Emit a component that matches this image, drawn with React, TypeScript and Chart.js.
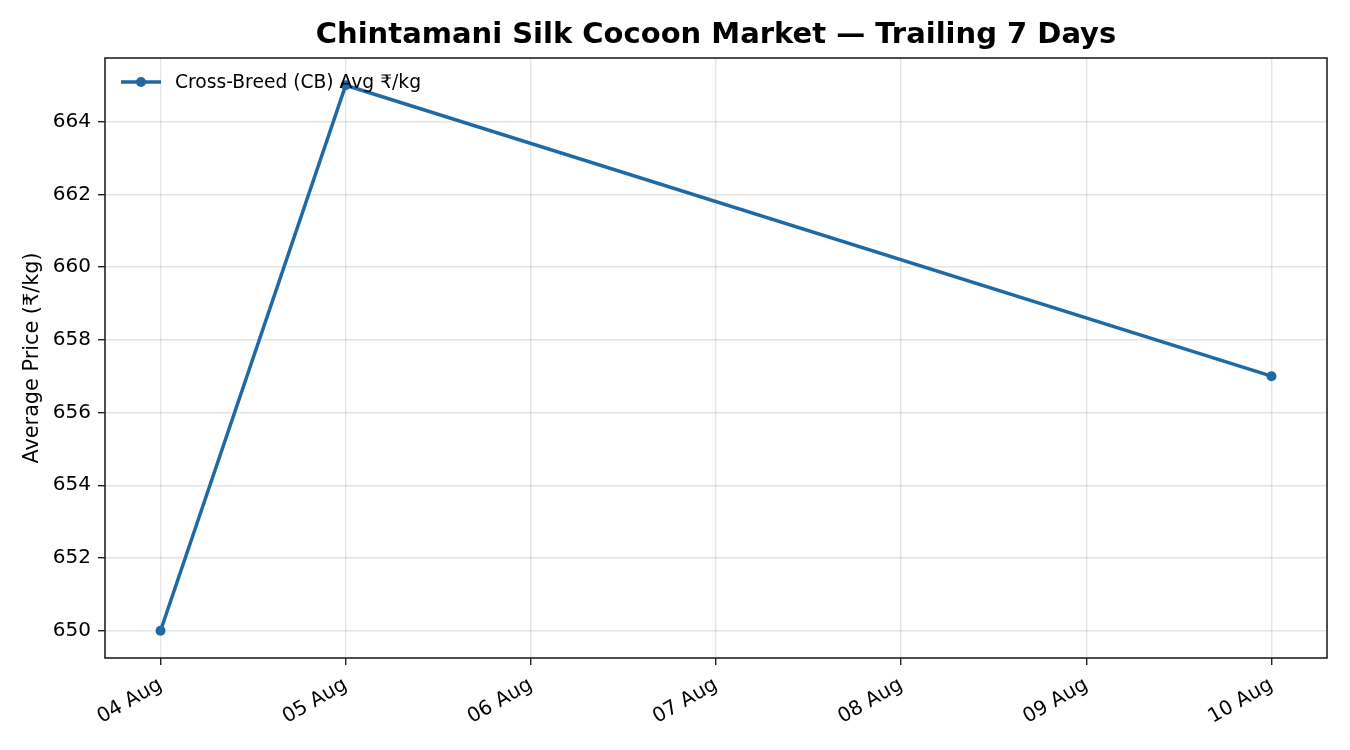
import { useEffect, useRef } from "react"
import { Chart, registerables } from "chart.js"

Chart.register(...registerables)

// Data
const dayLabels = ["04 Aug", "05 Aug", "06 Aug", "07 Aug", "08 Aug", "09 Aug", "10 Aug"]
const observedDays = ["04 Aug", "05 Aug", "10 Aug"]
const cbPrices = [650, 665, 657]
const priceTicks = [650, 652, 654, 656, 658, 660, 662, 664]

const TITLE = "Chintamani Silk Cocoon Market \u2014 Trailing 7 Days"
const SERIES_LABEL = "Cross-Breed (CB) Avg \u20B9/kg"
const Y_TITLE = "Average Price (\u20B9/kg)"
const LINE_COLOR = "#1f6aa5"
const FONT = "'DejaVu Sans', sans-serif"

// Title, y-axis title, in-plot legend and the full frame
const decorations = {
  id: "decorations",
  afterDraw(chart: Chart) {
    const { ctx, chartArea } = chart
    ctx.save()

    ctx.fillStyle = "#000"
    ctx.font = `bold 29px ${FONT}`
    ctx.textAlign = "center"
    ctx.textBaseline = "middle"
    ctx.fillText(TITLE, (chartArea.left + chartArea.right) / 2, 35)

    ctx.save()
    ctx.translate(33, (chartArea.top + chartArea.bottom) / 2)
    ctx.rotate(-Math.PI / 2)
    ctx.font = `20.8px ${FONT}`
    ctx.fillText(Y_TITLE, 0, 0)
    ctx.restore()

    // legend
    const ly = chartArea.top + 24
    const lx = chartArea.left + 16
    ctx.strokeStyle = LINE_COLOR
    ctx.lineWidth = 3.5
    ctx.beginPath()
    ctx.moveTo(lx, ly)
    ctx.lineTo(lx + 40, ly)
    ctx.stroke()
    ctx.fillStyle = LINE_COLOR
    ctx.beginPath()
    ctx.arc(lx + 20, ly, 5, 0, Math.PI * 2)
    ctx.fill()
    ctx.fillStyle = "#000"
    ctx.font = `18.7px ${FONT}`
    ctx.textAlign = "left"
    ctx.fillText(SERIES_LABEL, lx + 54, ly + 1)

    ctx.strokeStyle = "#222"
    ctx.lineWidth = 1.6
    ctx.strokeRect(chartArea.left, chartArea.top, chartArea.right - chartArea.left, chartArea.bottom - chartArea.top)
    ctx.restore()
  },
}

export default function App() {
  const canvasRef = useRef<HTMLCanvasElement>(null)
  const chartRef = useRef<Chart | null>(null)

  useEffect(() => {
    if (!canvasRef.current) return
    if (chartRef.current) chartRef.current.destroy()
    const ctx = canvasRef.current.getContext("2d")
    if (!ctx) return

    chartRef.current = new Chart(ctx, {
      type: "line",
      data: {
        datasets: [
          {
            label: SERIES_LABEL,
            data: observedDays.map((d, i) => ({ x: dayLabels.indexOf(d), y: cbPrices[i] })),
            borderColor: LINE_COLOR,
            backgroundColor: LINE_COLOR,
            borderWidth: 3.5,
            pointRadius: 5,
            pointHoverRadius: 5,
            pointBorderWidth: 0,
            tension: 0,
          },
        ],
      },
      options: {
        responsive: true,
        maintainAspectRatio: false,
        animation: false,
        layout: { padding: { top: 58, right: 23, left: 0, bottom: 0 } },
        plugins: {
          legend: { display: false },
          title: { display: false },
          tooltip: { enabled: false },
        },
        scales: {
          x: {
            type: "linear",
            min: -0.3,
            max: 6.3,
            afterBuildTicks: (scale: any) => {
              scale.ticks = dayLabels.map((_, i) => ({ value: i }))
            },
            afterFit: (scale: any) => {
              scale.height = 92
            },
            ticks: {
              autoSkip: false,
              minRotation: 30,
              maxRotation: 30,
              padding: 8,
              color: "#000",
              font: { family: FONT, size: 20 },
              callback: (v: any) => dayLabels[v as number] ?? "",
            },
            grid: {
              color: "rgba(0,0,0,0.1)",
              tickColor: "#222",
              tickLength: 7,
              lineWidth: 1.4,
            },
            border: { display: false },
          },
          y: {
            min: 649.25,
            max: 665.75,
            afterBuildTicks: (scale: any) => {
              scale.ticks = priceTicks.map((v) => ({ value: v }))
            },
            afterFit: (scale: any) => {
              scale.width = 105
            },
            ticks: {
              padding: 7,
              color: "#000",
              font: { family: FONT, size: 20 },
            },
            grid: {
              color: "rgba(0,0,0,0.1)",
              tickColor: "#222",
              tickLength: 7,
              lineWidth: 1.4,
            },
            border: { display: false },
          },
        },
      },
      plugins: [decorations],
    })

    return () => {
      if (chartRef.current) {
        chartRef.current.destroy()
        chartRef.current = null
      }
    }
  }, [])

  return (
    <div style={{ position: "fixed", left: 0, top: 0, width: "1350px", height: "750px", background: "#fff" }}>
      <canvas ref={canvasRef}></canvas>
    </div>
  )
}
